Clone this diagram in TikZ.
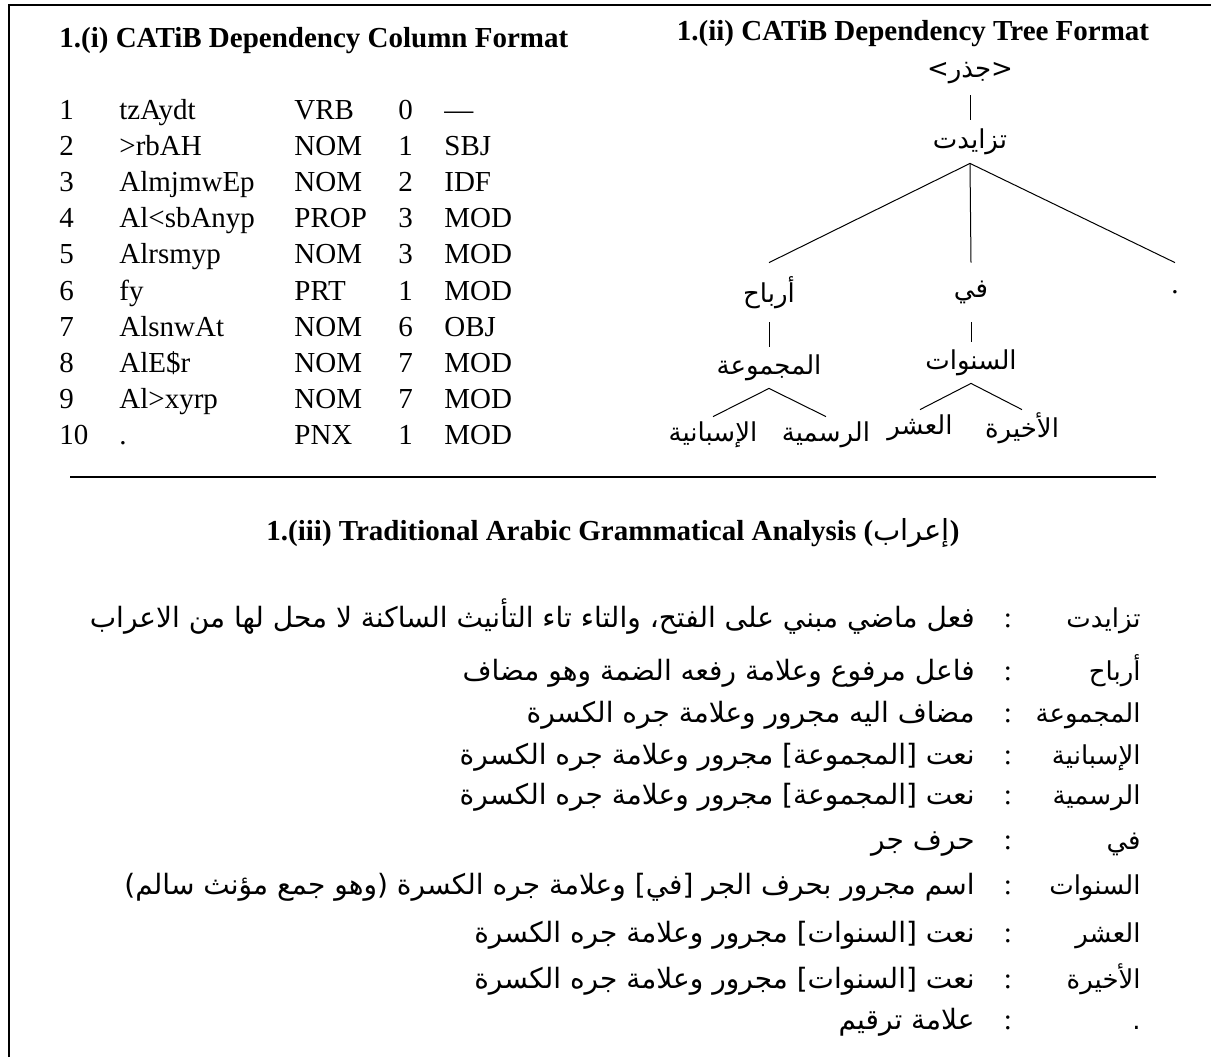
\documentclass[tikz,border=0pt]{standalone}
\usepackage{fontspec}
\setmainfont{Liberation Serif}
\newfontfamily\arabicfont[Script=Arabic]{DejaVu Sans}
\TeXXeTstate=1
\newcommand{\artxt}[1]{{\arabicfont\beginR #1\endR}}
\usetikzlibrary{positioning}

\tikzset{
  hd/.style={font=\bfseries\fontsize{14.5}{17}\selectfont, inner sep=0pt},
  cell/.style={font=\fontsize{14.5}{17}\selectfont, inner sep=0pt, anchor=base west},
  wd/.style={font=\arabicfont\fontsize{13}{15}\selectfont, inner sep=0pt},
  key/.style={font=\arabicfont\fontsize{13}{15}\selectfont, inner sep=0pt, anchor=base east},
  gloss/.style={font=\arabicfont\fontsize{14}{16}\selectfont, inner sep=0pt, anchor=base east},
  branch/.style={line width=0.5pt}
}

\begin{document}
\begin{tikzpicture}[x=0.5pt,y=-0.5pt]
\useasboundingbox (0,0) rectangle (1211,1057);
% frame
\draw [line width=0.8pt] (9,1057) -- (9,5) -- (1211,5);

% 1.(i) column format
\node[hd, anchor=base west] (head1) at (59,47) {1.(i) CATiB Dependency Column Format};
\foreach \w/\p/\h/\l [count=\i] in {tzAydt/VRB/0/—, >rbAH/NOM/1/SBJ, AlmjmwEp/NOM/2/IDF,
    Al<sbAnyp/PROP/3/MOD, Alrsmyp/NOM/3/MOD, fy/PRT/1/MOD, AlsnwAt/NOM/6/OBJ,
    AlE\$r/NOM/7/MOD, Al>xyrp/NOM/7/MOD, ./PNX/1/MOD} {
    \node[cell] (num\i) at (59,82.8+36.2*\i) {\i};
    \node[cell] (word\i) at (119,82.8+36.2*\i) {\w};
    \node[cell] (pos\i) at (294,82.8+36.2*\i) {\p};
    \node[cell] (head\i) at (398,82.8+36.2*\i) {\h};
    \node[cell] (lab\i) at (444,82.8+36.2*\i) {\l};
}

% 1.(ii) tree format
\node[hd, anchor=base] (head2) at (913,40) {1.(ii) CATiB Dependency Tree Format};
\node[wd, minimum height=22pt] (root) at (970,73) {\artxt{<جذر>}};
\node[wd, minimum height=21.5pt] (tzaydt) at (970,141.5) {\artxt{تزايدت}};
\node[wd, minimum height=29.5pt] (arbah) at (769,292.5) {\artxt{أرباح}};
\node[wd, minimum height=29.5pt] (fy) at (971,292.5) {\artxt{في}};
\node[cell, anchor=center, minimum height=29.5pt] (dot) at (1175,292.5) {.};
\node[wd, minimum height=20.5pt] (mjmwEp) at (769,367.5) {\artxt{المجموعة}};
\node[wd, minimum height=20.5pt] (snwAt) at (971,362.5) {\artxt{السنوات}};
\node[wd, minimum height=18pt] (sbAnyp) at (713,435) {\artxt{الإسبانية}};
\node[wd, minimum height=18pt] (rsmyp) at (826,435) {\artxt{الرسمية}};
\node[wd, minimum height=18pt] (Eshr) at (920,428) {\artxt{العشر}};
\node[wd, minimum height=18pt] (xyrp) at (1022,428) {\artxt{الأخيرة}};
\draw [branch] (root) -- (tzaydt);
\draw [branch] (tzaydt.south) -- (arbah.north);
\draw [branch] (tzaydt.south) -- (fy.north);
\draw [branch] (tzaydt.south) -- (dot.north);
\draw [branch] (arbah) -- (mjmwEp);
\draw [branch] (fy) -- (snwAt);
\draw [branch] (mjmwEp.south) -- (sbAnyp.north);
\draw [branch] (mjmwEp.south) -- (rsmyp.north);
\draw [branch] (snwAt.south) -- (Eshr.north);
\draw [branch] (snwAt.south) -- (xyrp.north);

\draw [line width=0.6pt] (70,477) -- (1156,477);

% 1.(iii) i'rab
\node[hd, anchor=base] (head3) at (613,540) {1.(iii) Traditional Arabic Grammatical Analysis (\artxt{\mdseries إعراب})};
\foreach \y/\w/\t [count=\i] in {
    627/تزايدت/فعل ماضي مبني على الفتح، والتاء تاء التأنيث الساكنة لا محل لها من الاعراب,
    680/أرباح/فاعل مرفوع وعلامة رفعه الضمة وهو مضاف,
    722/المجموعة/مضاف اليه مجرور وعلامة جره الكسرة,
    764/الإسبانية/نعت [المجموعة] مجرور وعلامة جره الكسرة,
    804/الرسمية/نعت [المجموعة] مجرور وعلامة جره الكسرة,
    849/في/حرف جر,
    894/السنوات/اسم مجرور بحرف الجر [في] وعلامة جره الكسرة (وهو جمع مؤنث سالم),
    942/العشر/نعت [السنوات] مجرور وعلامة جره الكسرة,
    988/الأخيرة/نعت [السنوات] مجرور وعلامة جره الكسرة,
    1029/./علامة ترقيم} {
    \node[key] (key\i) at (1141,\y) {\artxt{\w}};
    \node[cell, anchor=base] (colon\i) at (1008,\y) {:};
    \node[gloss] (exp\i) at (975,\y) {\artxt{\t}};
}
\end{tikzpicture}
\end{document}
